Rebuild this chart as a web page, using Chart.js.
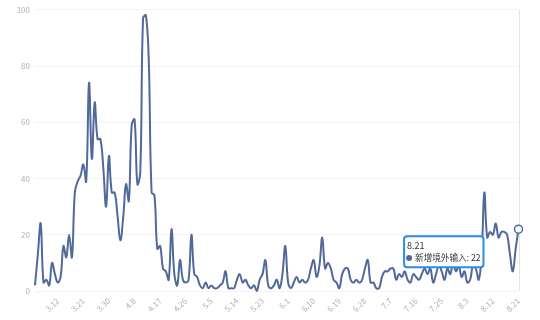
<!DOCTYPE html>
<html><head><meta charset="utf-8">
<script src="https://cdn.jsdelivr.net/npm/chart.js@4"></script>
<style>html,body{margin:0;padding:0;background:#fff;}#wrap{width:540px;height:320px;position:relative;}</style>
</head><body><div id="wrap"><canvas id="c" width="540" height="320"></canvas></div>
<script>
const seriesName = '新增境外输入';
const categories = [
"3.4","3.5","3.6","3.7","3.8","3.9","3.10","3.11","3.12","3.13","3.14","3.15","3.16","3.17","3.18","3.19","3.20","3.21","3.22","3.23","3.24","3.25","3.26","3.27","3.28","3.29","3.30","3.31",
"4.1","4.2","4.3","4.4","4.5","4.6","4.7","4.8","4.9","4.10","4.11","4.12","4.13","4.14","4.15","4.16","4.17","4.18","4.19","4.20","4.21","4.22","4.23","4.24","4.25","4.26","4.27","4.28","4.29","4.30",
"5.1","5.2","5.3","5.4","5.5","5.6","5.7","5.8","5.9","5.10","5.11","5.12","5.13","5.14","5.15","5.16","5.17","5.18","5.19","5.20","5.21","5.22","5.23","5.24","5.25","5.26","5.27","5.28","5.29","5.30","5.31",
"6.1","6.2","6.3","6.4","6.5","6.6","6.7","6.8","6.9","6.10","6.11","6.12","6.13","6.14","6.15","6.16","6.17","6.18","6.19","6.20","6.21","6.22","6.23","6.24","6.25","6.26","6.27","6.28","6.29","6.30",
"7.1","7.2","7.3","7.4","7.5","7.6","7.7","7.8","7.9","7.10","7.11","7.12","7.13","7.14","7.15","7.16","7.17","7.18","7.19","7.20","7.21","7.22","7.23","7.24","7.25","7.26","7.27","7.28","7.29","7.30","7.31",
"8.1","8.2","8.3","8.4","8.5","8.6","8.7","8.8","8.9","8.10","8.11","8.12","8.13","8.14","8.15","8.16","8.17","8.18","8.19","8.20","8.21"
];
const marchValues = [2,13,24,3,4,2,10,6,3,5,16,12,20,12,35,39,41,45,39,74,47,67,54,54,44,30,48,35];
const aprilValues = [35,27,18,26,38,32,59,61,38,42,97,98,82,35,34,15,16,8,7,4,22,6,2,11,4,3,4,20,6,5];
const mayValues = [2,1,3,1,2,1,1,2,3,7,1,1,1,4,6,3,4,2,1,2,0,4,6,11,2,1,2,4,1,6,16];
const juneValues = [3,1,3,5,3,4,3,4,8,11,5,9,19,8,10,8,4,3,1,6,8,8,4,3,4,3,4,8,11,3];
const julyValues = [3,1,1,5,7,7,8,8,4,6,5,7,4,3,6,5,4,6,8,6,8,3,6,9,7,4,8,6,10,7,9];
const augustValues = [5,7,3,4,9,8,4,12,35,19,21,20,24,19,21,21,20,13,7,15,22];
const values = [].concat(marchValues, aprilValues, mayValues, juneValues, julyValues, augustValues);
const tickLabels = ["3.12","3.21","3.30","4.8","4.17","4.26","5.5","5.14","5.23","6.1","6.10","6.19","6.28","7.7","7.16","7.25","8.3","8.12","8.21"];
const highlightLabel = "8.21";
const highlightIndex = categories.indexOf(highlightLabel);
const lineColor = '#50699a';

Chart.defaults.font.family = '"Noto Sans CJK SC", "Noto Sans", sans-serif';

Chart.Tooltip.positioners.leftBelow = function(items) {
  if (!items.length) return false;
  const el = items[0].element;
  return {x: el.x - 38, y: el.y + 7, xAlign: 'right', yAlign: 'top'};
};

const axisPointer = {
  id: 'axisPointer',
  beforeDatasetsDraw(chart) {
    const act = chart.getActiveElements();
    if (!act.length) return;
    const x = Math.round(act[0].element.x) + 0.5;
    const a = chart.chartArea, ctx = chart.ctx;
    ctx.save();
    ctx.strokeStyle = '#e4e4e4';
    ctx.lineWidth = 1;
    ctx.beginPath();
    ctx.moveTo(x, a.top);
    ctx.lineTo(x, a.bottom);
    ctx.stroke();
    ctx.restore();
  }
};

const chart = new Chart(document.getElementById('c'), {
  type: 'line',
  data: {
    labels: categories,
    datasets: [{
      label: seriesName,
      data: values,
      borderColor: lineColor,
      backgroundColor: lineColor,
      borderWidth: 2,
      tension: 0.4,
      pointRadius: 0,
      pointHoverRadius: 4,
      pointHoverBorderWidth: 1.5,
      pointHoverBackgroundColor: '#fff',
      pointHoverBorderColor: lineColor,
      fill: false,
      clip: {left: 2, top: 5, right: 8, bottom: 2}
    }]
  },
  options: {
    animation: false,
    responsive: false,
    events: [],
    layout: {padding: {left: 0, top: 5, right: 21.5, bottom: 0}},
    plugins: {
      legend: {display: false},
      tooltip: {
        enabled: true,
        position: 'leftBelow',
        xAlign: 'right',
        yAlign: 'top',
        backgroundColor: '#fff',
        borderColor: '#2a8ce6',
        borderWidth: 2,
        cornerRadius: 3,
        caretSize: 0,
        caretPadding: 0,
        titleColor: '#333',
        bodyColor: '#333',
        titleFont: {size: 9, weight: 'normal'},
        bodyFont: {size: 8.6},
        padding: {top: 4, bottom: 4, left: 3, right: 3},
        titleMarginBottom: 2,
        displayColors: true,
        usePointStyle: true,
        boxWidth: 4,
        boxHeight: 4,
        boxPadding: 2,
        callbacks: {
          labelPointStyle() { return {pointStyle: 'circle', rotation: 0}; },
          labelColor() { return {borderColor: lineColor, backgroundColor: lineColor}; }
        }
      }
    },
    scales: {
      x: {
        grid: {display: false, drawTicks: false},
        border: {display: false},
        ticks: {
          autoSkip: false, maxRotation: 45, minRotation: 45, padding: 5,
          font: {size: 8}, color: '#b0b0b0',
          callback(v, i) { const l = categories[i]; return tickLabels.includes(l) ? l : ''; }
        },
        afterFit(s) { s.height = 29; }
      },
      y: {
        min: 0, max: 100,
        ticks: {stepSize: 20, padding: 5, font: {size: 8}, color: '#b0b0b0'},
        grid: {color: '#f3f3f3', drawTicks: false},
        border: {display: false},
        afterFit(s) { s.width = 35; }
      }
    }
  },
  plugins: [axisPointer]
});

chart.setActiveElements([{datasetIndex: 0, index: highlightIndex}]);
chart.tooltip.setActiveElements([{datasetIndex: 0, index: highlightIndex}], {x: 0, y: 0});
chart.update();
</script>
</body></html>
